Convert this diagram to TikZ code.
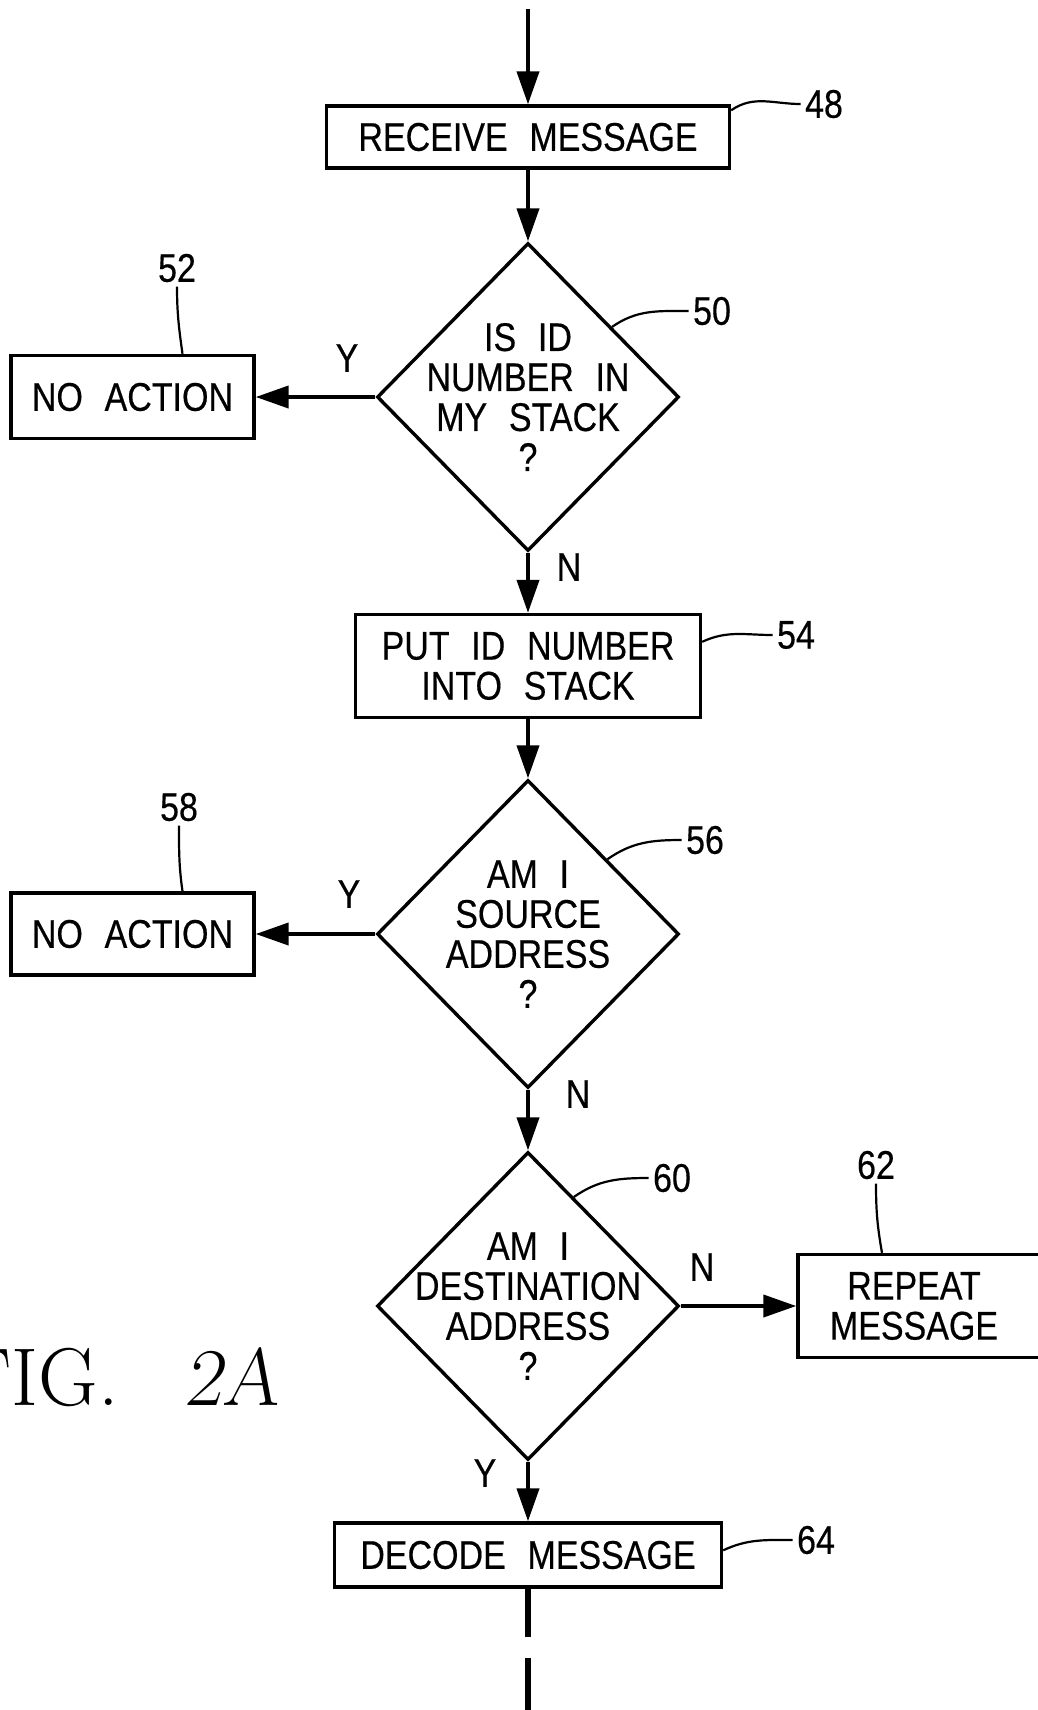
\documentclass[tikz,border=0pt]{standalone}
\usepackage{fontspec}
\newfontfamily\chartfont{Liberation Sans}[FakeStretch=0.85,WordSpace=2.3,FakeBold=0.4]
\usetikzlibrary{shapes.geometric,arrows.meta,calc}

\newcommand{\chartsize}{\chartfont\fontsize{20pt}{20pt}\selectfont}

\tikzset{
  box/.style={draw, line width=1.7pt, inner sep=0pt, align=center, font=\chartsize},
  dec/.style={draw, diamond, shape aspect=1, line width=1.7pt, inner sep=0pt,
    minimum width=151pt, minimum height=154pt},
  txt/.style={align=center, inner sep=0pt, font=\chartsize},
  tag/.style={inner sep=2pt, font=\chartsize},
  flow/.style={line width=2pt, -{Triangle[length=16.5pt,width=11pt]}},
  cont/.style={line width=3pt},
  lead/.style={line width=1.1pt},
}

\begin{document}
\begin{tikzpicture}[x=0.5pt, y=-0.5pt]
\useasboundingbox (0,0) rectangle (1038,1710);

\coordinate (in) at (528,9);
\node[box, minimum width=201.5pt, minimum height=31pt] (48) at (528,137) {RECEIVE MESSAGE};
\node[dec] (50) at (528,397) {};
\node[txt] (t50) at (50) {IS ID\\NUMBER IN\\MY STACK\\?};
\node[box, minimum width=121.5pt, minimum height=41.5pt] (52) at (132.5,397) {NO ACTION};
\node[box, minimum width=172.5pt, minimum height=51.5pt] (54) at (528,666) {PUT ID NUMBER\\INTO STACK};
\node[dec] (56) at (528,934) {};
\node[txt] (t56) at (56) {AM I\\SOURCE\\ADDRESS\\?};
\node[box, minimum width=121.5pt, minimum height=41pt] (58) at (132.5,934) {NO ACTION};
\node[dec] (60) at (528,1306) {};
\node[txt] (t60) at (60) {AM I\\DESTINATION\\ADDRESS\\?};
\node[box, minimum width=126pt, minimum height=51.5pt] (62) at (924,1306) {REPEAT\hspace*{10pt}\\MESSAGE\hspace*{10pt}};
\node[box, minimum width=193.5pt, minimum height=32pt] (64) at (528,1555) {DECODE MESSAGE};
\coordinate (cut) at (528,1637);
\coordinate (resume) at (528,1658);
\coordinate (out) at (528,1712);

% reference numerals
\node[tag] (l48) at (824,104) {48};
\node[tag] (l50) at (712,311) {50};
\node[tag] (l52) at (177,268) {52};
\node[tag] (l54) at (796,635) {54};
\node[tag] (l56) at (705,840) {56};
\node[tag] (l58) at (179,807) {58};
\node[tag] (l60) at (672,1178) {60};
\node[tag] (l62) at (876,1165) {62};
\node[tag] (l64) at (816,1540) {64};

% branch letters
\node[tag] (y50) at (347,358) {Y};
\node[tag] (n50) at (569,567) {N};
\node[tag] (y56) at (349,894) {Y};
\node[tag] (n56) at (578,1094) {N};
\node[tag] (n60) at (702,1267) {N};
\node[tag] (y60) at (485,1473) {Y};

\node[anchor=base west, inner sep=0pt, font=\rmfamily\fontsize{41pt}{41pt}\selectfont]
  (fig) at (-38,1405) {FIG.\hspace{33pt}\textsl{2A}};

\draw[flow] (in) -- (48);
\draw[flow] (48) -- (50);
\draw[flow] (50) -- (52);
\draw[flow] (50) -- (54);
\draw[flow] (54) -- (56);
\draw[flow] (56) -- (58);
\draw[flow] (56) -- (60);
\draw[flow] (60) -- (62);
\draw[flow] (60) -- (64);
\draw[cont] (64) -- (cut);
\draw[cont] (resume) -- (out);

\draw[lead] ([yshift=-3pt]48.north east) to[out=35,in=180] (l48.west);
\draw[lead] ($(50.north)!0.55!(50.east)$) to[out=35,in=180] (l50.west);
\draw[lead] ([xshift=25pt]52.north) to[out=98,in=-90] (l52.south);
\draw[lead] ([yshift=-14.5pt]54.north east) to[out=25,in=180] (l54.west);
\draw[lead] ($(56.north)!0.52!(56.east)$) to[out=35,in=180] (l56.west);
\draw[lead] ([xshift=25pt]58.north) to[out=98,in=-90] (l58.south);
\draw[lead] ($(60.north)!0.3!(60.east)$) to[out=35,in=180] (l60.west);
\draw[lead] ([xshift=-21pt]62.north) to[out=100,in=-90] (l62.south);
\draw[lead] ([yshift=-14.5pt]64.north east) to[out=25,in=180] (l64.west);
\end{tikzpicture}
\end{document}
